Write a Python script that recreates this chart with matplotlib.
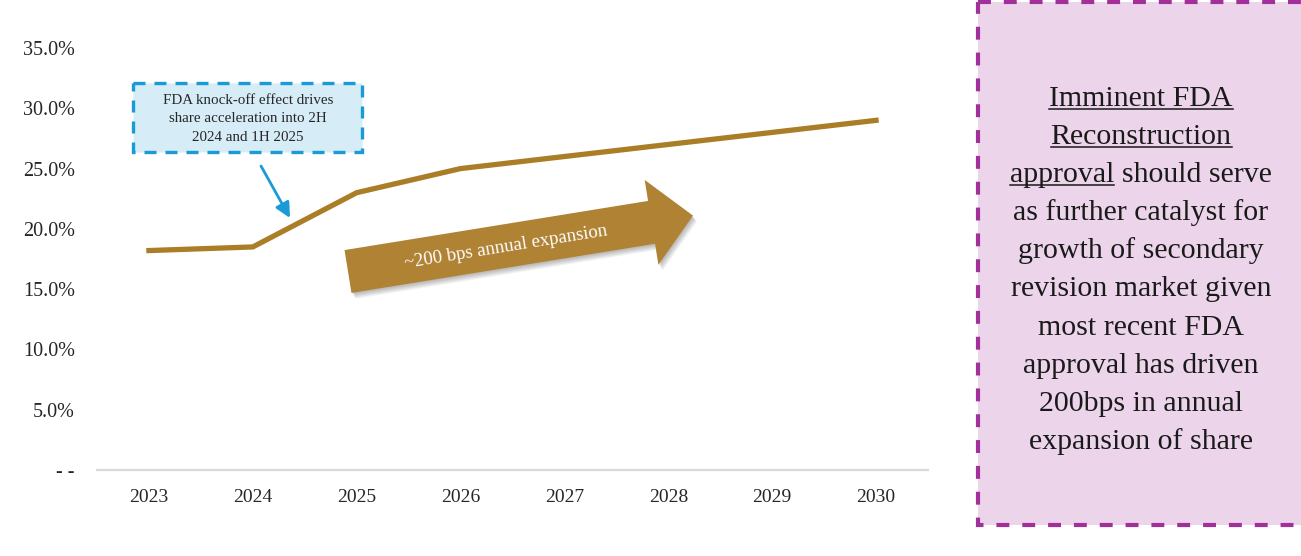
import matplotlib
matplotlib.use('Agg')
import matplotlib.pyplot as plt
from matplotlib.patches import Polygon, Rectangle
import numpy as np

# ---- data ----
years = ['2023', '2024', '2025', '2026', '2027', '2028', '2029', '2030']
share = [18.2, 18.5, 23.0, 25.0, 26.0, 27.0, 28.0, 29.0]
ytick_vals = [0, 5, 10, 15, 20, 25, 30, 35]
ytick_labels = ['- -', '5.0%', '10.0%', '15.0%', '20.0%', '25.0%', '30.0%', '35.0%']

callout_text = "FDA knock-off effect drives\nshare acceleration into 2H\n2024 and 1H 2025"
arrow_text = "~200 bps annual expansion"
side_lines = ["Imminent FDA", "Reconstruction", "approval should serve",
              "as further catalyst for", "growth of secondary",
              "revision market given", "most recent FDA",
              "approval has driven", "200bps in annual", "expansion of share"]

BROWN = '#aa7e27'
ARROW_BROWN = '#b08234'
BLUE = '#1a9bd7'
FONT = 'Liberation Serif'
TXT = '#262626'

W, H = 1301, 556
fig = plt.figure(figsize=(W / 100, H / 100), dpi=100)

# ---- main chart ----
ax = fig.add_axes([97 / W, 1 - 470 / H, 831 / W, 422 / H])
x = np.arange(len(years))
ax.plot(x, share, color=BROWN, lw=3.8, solid_joinstyle='miter', clip_on=False)
ax.set_xlim(-0.5, len(years) - 0.5)
ax.set_ylim(0, 35)
for s in ['top', 'right', 'left']:
    ax.spines[s].set_visible(False)
ax.spines['bottom'].set_color('#d9d9d9')
ax.spines['bottom'].set_linewidth(1.6)
ax.set_xticks(x, years)
ax.set_yticks(ytick_vals, ytick_labels)
ax.tick_params(axis='both', length=0, labelsize=14, labelcolor=TXT)
ax.tick_params(axis='y', pad=16, labelsize=14.5)
ax.tick_params(axis='x', pad=14)
for lab in ax.get_xticklabels() + ax.get_yticklabels():
    lab.set_fontfamily(FONT)

# ---- overlay in pixel coordinates ----
ov = fig.add_axes([0, 0, 1, 1], zorder=5)
ov.set_xlim(0, W)
ov.set_ylim(H, 0)
ov.axis('off')
ov.patch.set_alpha(0)

# callout box
ov.add_patch(Rectangle((133, 83), 229, 69, fc='#d6ecf7', ec=BLUE, lw=2.4,
                       linestyle=(0, (3.6, 2.7))))
ov.text(248, 119, callout_text, ha='center', va='center', fontsize=10.8,
        family=FONT, color=TXT, linespacing=1.55)
ov.annotate('', xy=(290, 218), xytext=(261, 166),
            arrowprops=dict(arrowstyle='-|>,head_length=0.9,head_width=0.45',
                            color=BLUE, lw=2, shrinkA=0, shrinkB=0))

# big arrow (local frame: along axis u, perpendicular n)
tail = np.array([348.0, 271.5])
ang = np.deg2rad(-9.2)
u = np.array([np.cos(ang), np.sin(ang)])
n = np.array([-np.sin(ang), np.cos(ang)])
shaft_hw, head_hw, head_base, tip_len = 21.7, 43.0, 307.5, 349.5
local = [(0, -shaft_hw), (head_base, -shaft_hw), (head_base, -head_hw),
         (tip_len, 0), (head_base, head_hw), (head_base, shaft_hw), (0, shaft_hw)]
pts = np.array([tail + a * u + b * n for a, b in local])
for d in np.linspace(1.0, 6.0, 8):
    ov.add_patch(Polygon(pts + np.array([d * 0.7, d]), closed=True, fc='black',
                         ec='none', alpha=0.035))
ov.add_patch(Polygon(pts, closed=True, fc=ARROW_BROWN, ec='none'))
tc = tail + 160 * u + 1.5 * n
ov.text(tc[0], tc[1], arrow_text, rotation=9.2, rotation_mode='anchor',
        ha='center', va='center', fontsize=13.5, family=FONT, color='white')

# side box
FS = 21.5
ov.add_patch(Rectangle((978, 2), 400, 523, fc='#ecd5ea', ec='#a2309b', lw=3,
                       linestyle=(0, (3.1, 3.1)), clip_on=False))
cx = 1141
centers = [97 + 38.1 * i for i in range(len(side_lines))]
side_texts = []
for line, cy in zip(side_lines, centers):
    t = ov.text(cx, cy + 9, line, ha='center', va='baseline', fontsize=FS,
                family=FONT, color='#1a1a1a')
    side_texts.append(t)

fig.canvas.draw()
r = fig.canvas.get_renderer()
inv = ov.transData.inverted()


def underline(t, frac_text=None):
    bb = t.get_window_extent(r)
    x0 = inv.transform((bb.x0, bb.y0))[0]
    x1 = inv.transform((bb.x1, bb.y0))[0]
    if frac_text is not None:
        tmp = ov.text(0, 0, frac_text, fontsize=FS, family=FONT)
        wb = tmp.get_window_extent(r)
        tmp.remove()
        x1 = x0 + (wb.x1 - wb.x0)
    yb = t.get_position()[1] + 3
    ov.plot([x0, x1], [yb, yb], color='#1a1a1a', lw=1.1)


underline(side_texts[0])
underline(side_texts[1])
underline(side_texts[2], 'approval')

fig.savefig('out.png', dpi=100)
